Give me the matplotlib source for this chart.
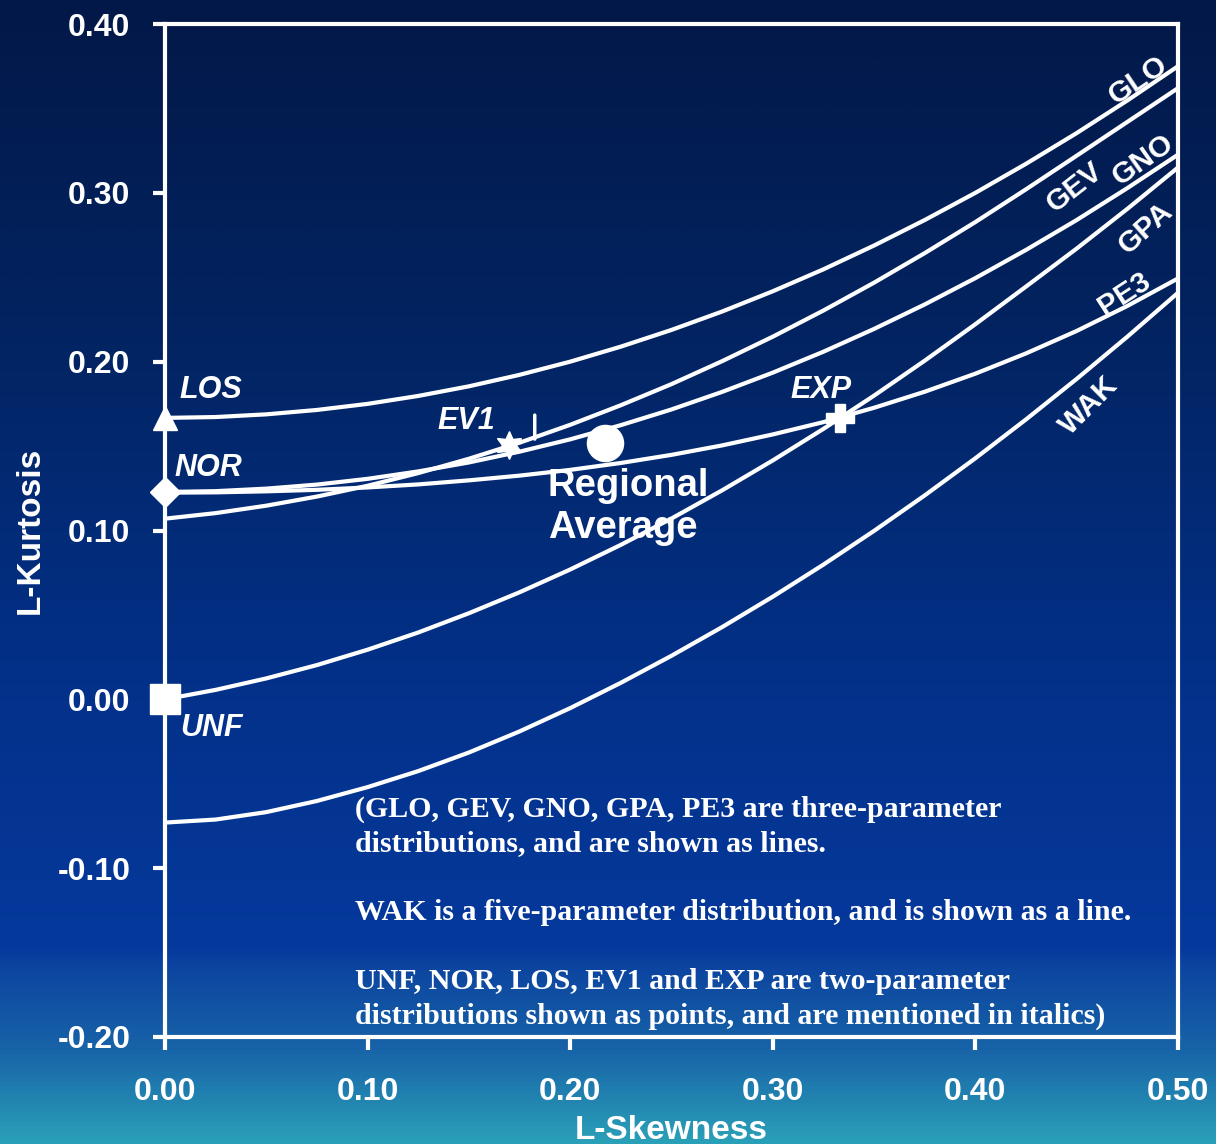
import numpy as np
import matplotlib
matplotlib.use("Agg")
import matplotlib.pyplot as plt
from matplotlib.colors import LinearSegmentedColormap

plt.rcParams['font.family'] = ['Liberation Sans', 'DejaVu Sans']
plt.rcParams['axes.unicode_minus'] = False

# L-skewness grid and L-kurtosis of each curve
tau3 = [0.000, 0.025, 0.050, 0.075, 0.100, 0.125, 0.150, 0.175, 0.200, 0.225, 0.250,
        0.275, 0.300, 0.325, 0.350, 0.375, 0.400, 0.425, 0.450, 0.475, 0.500]
glo = [0.1667, 0.1672, 0.1688, 0.1714, 0.1750, 0.1797, 0.1854, 0.1922, 0.2000, 0.2089, 0.2188,
       0.2297, 0.2417, 0.2547, 0.2688, 0.2839, 0.3000, 0.3172, 0.3354, 0.3547, 0.3750]
gev = [0.1070, 0.1103, 0.1147, 0.1201, 0.1265, 0.1340, 0.1425, 0.1520, 0.1626, 0.1742, 0.1867,
       0.2003, 0.2148, 0.2303, 0.2468, 0.2643, 0.2827, 0.3021, 0.3220, 0.3420, 0.3620]
gno = [0.1228, 0.1233, 0.1248, 0.1272, 0.1306, 0.1350, 0.1403, 0.1467, 0.1540, 0.1624, 0.1717,
       0.1821, 0.1935, 0.2059, 0.2194, 0.2339, 0.2495, 0.2662, 0.2839, 0.3028, 0.3226]
gpa = [0.0000, 0.0056, 0.0124, 0.0203, 0.0294, 0.0396, 0.0510, 0.0634, 0.0769, 0.0915, 0.1071,
       0.1238, 0.1415, 0.1602, 0.1799, 0.2006, 0.2222, 0.2445, 0.2670, 0.2905, 0.3150]
pe3 = [0.1224, 0.1226, 0.1232, 0.1241, 0.1255, 0.1273, 0.1297, 0.1325, 0.1359, 0.1400, 0.1448,
       0.1504, 0.1569, 0.1642, 0.1727, 0.1822, 0.1929, 0.2049, 0.2182, 0.2330, 0.2493]
wak = [-0.0730, -0.0712, -0.0668, -0.0602, -0.0520, -0.0425, -0.0315, -0.0190, -0.0052, 0.0098, 0.0258,
       0.0428, 0.0608, 0.0798, 0.0998, 0.1208, 0.1428, 0.1658, 0.1898, 0.2148, 0.2408]

curve_names = ['GLO', 'GEV', 'GNO', 'GPA', 'PE3', 'WAK']

# two-parameter distributions (tau3, tau4)
pt_names = ['LOS', 'NOR', 'UNF', 'EV1', 'EXP']
pt_t3 = [0.0, 0.0, 0.0, 0.1699, 0.3333]
pt_t4 = [0.1667, 0.1226, 0.0, 0.1504, 0.1667]

regional_t3 = 0.217
regional_t4 = 0.152

xticks = [0.0, 0.1, 0.2, 0.3, 0.4, 0.5]
yticks = [-0.2, -0.1, 0.0, 0.1, 0.2, 0.3, 0.4]

W, H = 1216, 1144
fig = plt.figure(figsize=(W / 100, H / 100), dpi=100)

# gradient background
bg = fig.add_axes([0, 0, 1, 1], zorder=-10)
cmap = LinearSegmentedColormap.from_list('bg', [
    (0.00, '#021848'), (0.30, '#022462'), (0.60, '#03318a'),
    (0.83, '#05399c'), (0.845, '#0c44a0'), (0.92, '#1864a8'), (1.00, '#2aa0b8')])
grad = np.linspace(0, 1, 512).reshape(-1, 1)
bg.imshow(grad, aspect='auto', cmap=cmap, extent=[0, 1, 0, 1], origin='upper')
bg.set_axis_off()

ax = fig.add_axes([165 / W, 1 - 1037 / H, (1178 - 165) / W, (1037 - 24) / H])
ax.set_facecolor('none')
ax.set_xlim(0, 0.5)
ax.set_ylim(-0.2, 0.4)

for s in ax.spines.values():
    s.set_color('white')
    s.set_linewidth(3)

ax.set_xticks(xticks)
ax.set_yticks(yticks)
ax.set_xticklabels(['%.2f' % v for v in xticks])
ax.set_yticklabels(['%.2f' % v for v in yticks])
ax.tick_params(colors='white', labelcolor='white', width=3, length=9,
               labelsize=23, direction='out')
ax.tick_params(axis='y', pad=16)
ax.tick_params(axis='x', pad=20)
for lab in ax.get_xticklabels() + ax.get_yticklabels():
    lab.set_fontweight('bold')

ax.set_xlabel('L-Skewness', color='white', fontsize=24, fontweight='bold', labelpad=5.5)
ax.set_ylabel('L-Kurtosis', color='white', fontsize=24, fontweight='bold', labelpad=8)

for ys in [glo, gev, gno, gpa, pe3, wak]:
    ax.plot(tau3, ys, color='white', lw=3, solid_capstyle='butt', solid_joinstyle='round')

# point markers
markers = ['^', 'D', 's', (6, 1, 0), 'P']
msizes = [17, 15, 21, 20, 20]
for x, y, m, ms in zip(pt_t3, pt_t4, markers, msizes):
    ax.plot([x], [y], marker=m, ms=ms, color='white', mec='white', clip_on=False,
            zorder=5)

ax.plot([regional_t3], [regional_t4], 'o', ms=26, color='white', zorder=5)

# point labels
lab_pos = {'LOS': (0.0069, 0.1832), 'NOR': (0.0049, 0.1370), 'UNF': (0.0074, -0.0171),
           'EV1': (0.1347, 0.1648), 'EXP': (0.3085, 0.1832)}
for name in pt_names:
    x, y = lab_pos[name]
    ax.text(x, y, name, color='white', fontsize=22, fontweight='bold',
            fontstyle='italic', ha='left', va='center')

# small vertical stroke next to EV1
ax.annotate('', xy=(0.1825, 0.1525), xytext=(0.1825, 0.1700),
            arrowprops=dict(arrowstyle='-', color='white', lw=2.5))

ax.text(0.189, 0.1140, 'Regional\nAverage', color='white', fontsize=27.5,
        fontweight='bold', ha='left', va='center', linespacing=1.19)

# curve labels
curve_lab = {'GLO': (0.4802, 0.3668, 34), 'GEV': (0.4490, 0.3031, 38),
             'GNO': (0.4827, 0.3195, 35), 'GPA': (0.4842, 0.2791, 42),
             'PE3': (0.4734, 0.2400, 33), 'WAK': (0.4561, 0.1742, 45)}
for name in curve_names:
    x, y, r = curve_lab[name]
    ax.text(x, y, name, color='white', fontsize=21.5, fontweight='bold',
            rotation=r, ha='center', va='center', rotation_mode='anchor')

note = ('(GLO, GEV, GNO, GPA, PE3 are three-parameter\n'
        'distributions, and are shown as lines.\n'
        '\n'
        'WAK is a five-parameter distribution, and is shown as a line.\n'
        '\n'
        'UNF, NOR, LOS, EV1 and EXP are two-parameter\n'
        'distributions shown as points, and are mentioned in italics)')
ax.text(0.0938, -0.0568, note, color='white', fontsize=21.5, fontweight='bold',
        family=['Liberation Serif', 'DejaVu Serif'], ha='left', va='top',
        linespacing=1.356)

fig.savefig('out.png', dpi=100)
